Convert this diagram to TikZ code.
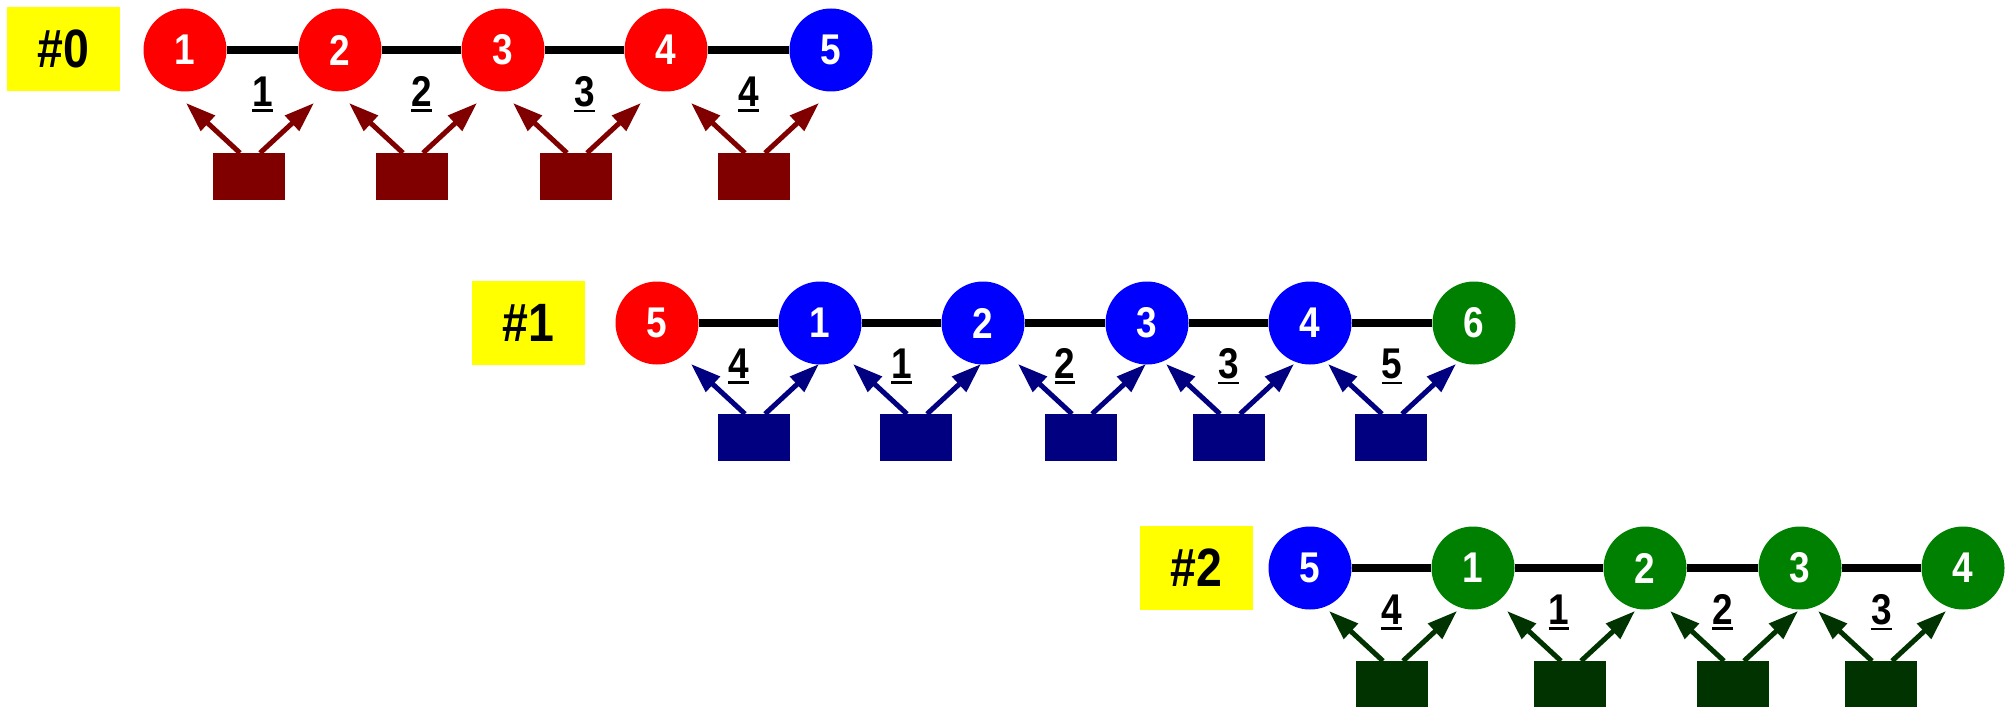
\documentclass[tikz,border=0pt]{standalone}
\usepackage{fontspec}
\setmainfont{Liberation Sans}[FakeStretch=0.86]
\usetikzlibrary{arrows.meta}
\definecolor{cred}{HTML}{FF0000}
\definecolor{cblue}{HTML}{0000FF}
\definecolor{cgreen}{HTML}{008000}
\definecolor{cmaroon}{HTML}{800000}
\definecolor{cnavy}{HTML}{000080}
\definecolor{cdgreen}{HTML}{003300}
\definecolor{cyell}{HTML}{FFFF00}
\newcommand{\ulnum}[1]{\vtop{\hbox{#1}\kern1.6pt\hrule height 1.3pt}}
\tikzset{
  ball/.style={circle, minimum size=41.5pt, inner sep=0pt, text=white,
    font=\bfseries\fontsize{21.5}{21.5}\selectfont},
  sqbox/.style={rectangle, minimum width=36pt, minimum height=23.5pt, inner sep=0pt, anchor=north},
  tag/.style={fill=cyell, minimum width=56.5pt, minimum height=42pt, inner sep=0pt,
    font=\bfseries\fontsize{27}{27}\selectfont},
  elab/.style={anchor=base, inner sep=0pt, font=\bfseries\fontsize{21.5}{21.5}\selectfont},
  bar/.style={line width=4pt},
  arr/.style={line width=2.5pt, -{Triangle[length=15pt,width=10pt]}}
}
\begin{document}
\begin{tikzpicture}[x=0.5pt,y=-0.5pt]
\useasboundingbox (0,0) rectangle (2011,706);
% ---------------- row #0
\node[tag] (t0) at (63.5,49) {\#0};
\foreach \i/\x/\c/\t in {1/185/cred/1,2/340/cred/2,3/503/cred/3,4/666/cred/4,5/831/cblue/5}
  \node[ball,fill=\c] (a\i) at (\x,50) {\t};
\foreach \i/\j in {1/2,2/3,3/4,4/5}
  \draw[bar] (a\i) -- (a\j);
\foreach \i/\x/\t in {1/262.5/1,2/421.5/2,3/584.5/3,4/748.5/4}
  \node[elab] (la\i) at (\x,106) {\ulnum{\t}};
\foreach \i/\x in {1/249,2/412,3/576,4/754}{
  \node[sqbox,fill=cmaroon] (sa\i) at (\x,153) {};
  \draw[arr,cmaroon] ([xshift=-4.5pt]sa\i.north) -- ++(-27pt,25pt);
  \draw[arr,cmaroon] ([xshift=5.5pt]sa\i.north) -- ++(27pt,25pt);
}
% ---------------- row #1
\node[tag] (t1) at (528,323) {\#1};
\foreach \i/\x/\c/\t in {1/657/cred/5,2/820/cblue/1,3/983/cblue/2,4/1147/cblue/3,5/1310/cblue/4,6/1474/cgreen/6}
  \node[ball,fill=\c] (b\i) at (\x,323) {\t};
\foreach \i/\j in {1/2,2/3,3/4,4/5,5/6}
  \draw[bar] (b\i) -- (b\j);
\foreach \i/\x/\t in {1/738.5/4,2/901.5/1,3/1065/2,4/1228.5/3,5/1392/5}
  \node[elab] (lb\i) at (\x,378) {\ulnum{\t}};
\foreach \i/\x in {1/754,2/916,3/1081,4/1229,5/1391}{
  \node[sqbox,fill=cnavy] (sb\i) at (\x,414) {};
  \draw[arr,cnavy] ([xshift=-4.5pt]sb\i.north) -- ++(-27pt,25pt);
  \draw[arr,cnavy] ([xshift=5.5pt]sb\i.north) -- ++(27pt,25pt);
}
% ---------------- row #2
\node[tag] (t2) at (1196.5,567.5) {\#2};
\foreach \i/\x/\c/\t in {1/1310/cblue/5,2/1473/cgreen/1,3/1645/cgreen/2,4/1800/cgreen/3,5/1963/cgreen/4}
  \node[ball,fill=\c] (c\i) at (\x,568) {\t};
\foreach \i/\j in {1/2,2/3,3/4,4/5}
  \draw[bar] (c\i) -- (c\j);
\foreach \i/\x/\t in {1/1391.5/4,2/1559/1,3/1722.5/2,4/1881.5/3}
  \node[elab] (lc\i) at (\x,624) {\ulnum{\t}};
\foreach \i/\x in {1/1392,2/1570,3/1733,4/1881}{
  \node[sqbox,fill=cdgreen] (sc\i) at (\x,661) {};
  \draw[arr,cdgreen] ([xshift=-4.5pt]sc\i.north) -- ++(-27pt,25pt);
  \draw[arr,cdgreen] ([xshift=5.5pt]sc\i.north) -- ++(27pt,25pt);
}
\end{tikzpicture}
\end{document}
